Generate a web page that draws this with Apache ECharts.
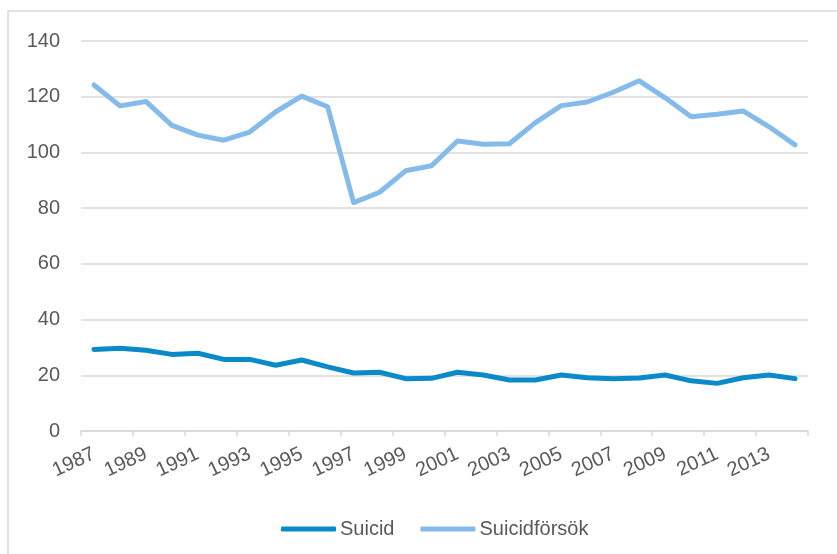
<!DOCTYPE html>
<html>
<head>
<meta charset="utf-8">
<script src="https://cdn.jsdelivr.net/npm/echarts@6/dist/echarts.min.js"></script>
<style>
  html, body { margin: 0; padding: 0; background: #ffffff; }
  #chart { width: 837px; height: 554px; }
</style>
</head>
<body>
<div id="chart"></div>
<script>
// Years on the category axis
const years = [1987, 1988, 1989, 1990, 1991, 1992, 1993, 1994, 1995, 1996,
  1997, 1998, 1999, 2000, 2001, 2002, 2003, 2004, 2005, 2006,
  2007, 2008, 2009, 2010, 2011, 2012, 2013, 2014].map(String);

// Suicide rate per year
const suicid = [29.3, 29.7, 29.0, 27.5, 27.9, 25.7, 25.7, 23.6, 25.5, 23.0,
  20.8, 21.1, 18.8, 18.9, 21.1, 20.1, 18.3, 18.3, 20.1, 19.1,
  18.8, 19.0, 20.1, 18.0, 17.1, 19.1, 20.1, 18.8];

// Attempted suicide rate per year
const suicidforsok = [124.2, 116.7, 118.3, 109.7, 106.2, 104.4, 107.3, 114.6, 120.2, 116.4,
  82.0, 85.7, 93.4, 95.2, 104.1, 102.9, 103.1, 110.7, 116.8, 118.1,
  121.6, 125.7, 119.6, 112.8, 113.7, 114.9, 109.2, 102.7];

// Value axis ticks
const yTicks = [0, 20, 40, 60, 80, 100, 120, 140];

const seriesNames = ['Suicid', 'Suicidförsök'];
const seriesColors = ['#0b8ac9', '#85bbea'];
const textColor = '#595959';
const gridColor = '#d9d9d9';
const fontFamily = '"Liberation Sans", Arial, sans-serif';

const chart = echarts.init(document.getElementById('chart'), null, { renderer: 'canvas' });

chart.setOption({
  animation: false,
  backgroundColor: '#ffffff',
  textStyle: { fontFamily: fontFamily },
  graphic: [{
    type: 'rect',
    shape: { x: 8, y: 11, width: 840, height: 560 },
    style: { fill: 'none', stroke: gridColor, lineWidth: 1.5 },
    silent: true
  }],
  grid: {
    left: 81, right: 29, top: 41, bottom: 123,
    containLabel: false,
    outerBoundsMode: 'none'
  },
  legend: {
    left: 276,
    top: 514,
    itemWidth: 55,
    itemHeight: 5,
    itemGap: 26,
    icon: 'roundRect',
    textStyle: { color: textColor, fontSize: 20, fontFamily: fontFamily, padding: [0, 0, 0, -1] },
    data: seriesNames
  },
  xAxis: {
    type: 'category',
    data: years,
    boundaryGap: true,
    axisLine: { show: true, lineStyle: { color: gridColor, width: 1.5 } },
    axisTick: { show: true, interval: 1, length: 5, lineStyle: { color: gridColor, width: 1.5 } },
    axisLabel: {
      interval: 1,
      rotate: 25,
      margin: 22,
      color: textColor,
      fontSize: 20,
      fontFamily: fontFamily
    },
    splitLine: { show: false }
  },
  yAxis: {
    type: 'value',
    min: yTicks[0],
    max: yTicks[yTicks.length - 1],
    interval: yTicks[1] - yTicks[0],
    axisLine: { show: false },
    axisTick: { show: false },
    axisLabel: { margin: 21, color: textColor, fontSize: 20, fontFamily: fontFamily },
    splitLine: { show: true, lineStyle: { color: gridColor, width: 1.5 } }
  },
  series: [
    {
      name: seriesNames[0],
      type: 'line',
      data: suicid,
      symbol: 'none',
      smooth: false,
      itemStyle: { color: seriesColors[0] },
      lineStyle: { color: seriesColors[0], width: 5, cap: 'round', join: 'round' }
    },
    {
      name: seriesNames[1],
      type: 'line',
      data: suicidforsok,
      symbol: 'none',
      smooth: false,
      itemStyle: { color: seriesColors[1] },
      lineStyle: { color: seriesColors[1], width: 5, cap: 'round', join: 'round' }
    }
  ]
});
</script>
</body>
</html>
